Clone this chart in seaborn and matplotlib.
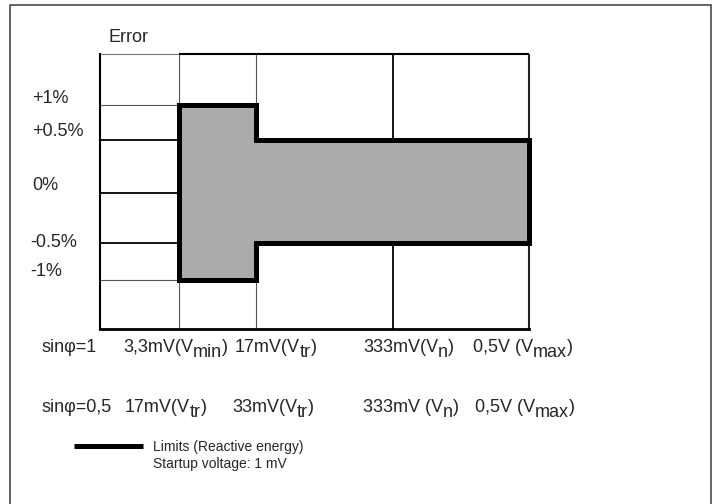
import numpy as np
import pandas as pd
import seaborn as sns
import matplotlib
matplotlib.use('Agg')
import matplotlib.pyplot as plt
from matplotlib.lines import Line2D
from matplotlib.patches import Rectangle
from matplotlib import font_manager

# Voltage points for sinφ=1 (mV): plot start, Vmin, Vtr, Vn, Vmax
volt_mv = [1, 3.3, 17, 333, 500]
# Error levels (%) shown on the schematic vertical axis
err_levels = [-1.5, -1, -0.5, 0, 0.5, 1, 1.5]

# Error limits (reactive energy): step band between voltage edges
limit_edges = [3.3, 17, 500]
limit_upper = [1.0, 0.5, 0.5]
limit_lower = [-1.0, -0.5, -0.5]

y_tick_labels = ['+1%', '+0.5%', '0%', '-0.5%', '-1%']

# (text, subscript, tail)
row1_labels = [('sinφ=1', '', ''), ('3,3mV(V', 'min', ')'), ('17mV(V', 'tr', ')'),
               ('333mV(V', 'n', ')'), ('0,5V (V', 'max', ')')]
row2_labels = [('sinφ=0,5', '', ''), ('17mV(V', 'tr', ')'), ('33mV(V', 'tr', ')'),
               ('333mV (V', 'n', ')'), ('0,5V (V', 'max', ')')]
legend_labels = ['Limits (Reactive energy)', 'Startup voltage: 1 mV']

# schematic layout (pixel positions of the axis knots, not data)
volt_pos = [0, 79, 156, 293, 429]
err_pos = [0, 49, 86, 136, 189, 224, 275]
row1_x = [41, 123, 235, 363, 473]
row2_x = [41, 125, 232, 363, 475]
ylab_x = [32, 32, 32, 30, 30]
ylab_base = [103, 136, 190, 247, 276]

W, H = 716, 504

sns.set_theme(style='white')
plt.rcParams['font.family'] = ['Liberation Sans', 'DejaVu Sans']

names = {f.name for f in font_manager.fontManager.ttflist}
if 'Liberation Sans Narrow' in names:
    leg_font = {'family': 'Liberation Sans Narrow', 'size': 12.5}
else:
    leg_font = {'family': 'Liberation Sans', 'size': 10}

FS = 13


def px(x, y):
    return x / W, 1 - y / H


fig = plt.figure(figsize=(W / 100, H / 100), dpi=100)
renderer = fig.canvas.get_renderer()

# outer frame
fig.add_artist(Rectangle(px(9.5, 600), 701 / W, (600 - 5) / H, transform=fig.transFigure,
                         fill=False, ec='#3a3a3a', lw=1.1))

ax = fig.add_axes([100 / W, (H - 329) / H, 429 / W, 275 / H])


def xf(v):
    return np.interp(v, volt_mv, volt_pos)


def xi(p):
    return np.interp(p, volt_pos, volt_mv)


def yf(v):
    return np.interp(v, err_levels, err_pos)


def yi(p):
    return np.interp(p, err_pos, err_levels)


ax.set_xscale('function', functions=(xf, xi))
ax.set_yscale('function', functions=(yf, yi))
ax.set_xlim(volt_mv[0], volt_mv[-1])
ax.set_ylim(err_levels[0], err_levels[-1])
ax.set_xticks([])
ax.set_yticks([])
ax.set_facecolor('white')

for s in ['top', 'right']:
    ax.spines[s].set_visible(False)
ax.spines['left'].set_color('black')
ax.spines['left'].set_linewidth(1.5)
ax.spines['bottom'].set_color('black')
ax.spines['bottom'].set_linewidth(2.0)

# grid
ax.vlines([volt_mv[1], volt_mv[2]], err_levels[0], err_levels[-1], colors='#555555', lw=0.8, zorder=1)
ax.vlines(volt_mv[3], err_levels[0], err_levels[-1], colors='black', lw=1.3, zorder=1)
ax.hlines([1, -1], volt_mv[0], volt_mv[1], colors='#555555', lw=0.8, zorder=1)
ax.hlines([0.5, 0, -0.5], volt_mv[0], volt_mv[1], colors='black', lw=1.3, zorder=1)
ax.hlines(err_levels[-1], volt_mv[0], volt_mv[1], colors='#777777', lw=0.8, zorder=1, clip_on=False)
ax.hlines(err_levels[-1], volt_mv[1], volt_mv[-1], colors='black', lw=1.5, zorder=1, clip_on=False)
ax.vlines(volt_mv[-1], err_levels[0], err_levels[-1], colors='#222222', lw=1.5, zorder=1, clip_on=False)

# limit band
band = ax.fill_between(limit_edges, limit_upper, limit_lower, step='post',
                       facecolor='#ababab', edgecolor='black', linewidth=3.6,
                       zorder=3, clip_on=False)
band.set_joinstyle('miter')


def draw_label(x, base, parts):
    cur = x
    for i, part in enumerate(parts):
        if not part:
            continue
        dy = 5 if i == 1 else 0
        t = fig.text(*px(cur, base + dy), part, fontsize=FS, va='baseline', ha='left')
        cur = t.get_window_extent(renderer).x1


# texts
fig.text(*px(108, 42), 'Error', fontsize=FS, va='baseline', ha='left')
for lab, x, y in zip(y_tick_labels, ylab_x, ylab_base):
    fig.text(*px(x, y), lab, fontsize=FS, va='baseline', ha='left')
for parts, x in zip(row1_labels, row1_x):
    draw_label(x, 352, parts)
for parts, x in zip(row2_labels, row2_x):
    draw_label(x, 412, parts)

# legend
handles = [Line2D([], [], color='black', lw=3.6, solid_capstyle='butt'),
           Line2D([], [], color='none')]
fsz = leg_font['size'] * 100 / 72
fig.legend(handles, legend_labels, loc='upper left', bbox_to_anchor=px(74, 440),
           frameon=False, prop=leg_font, borderpad=0, borderaxespad=0,
           handlelength=69 / fsz, handletextpad=10 / fsz, labelspacing=0.2)

fig.savefig('out.png', dpi=100)
